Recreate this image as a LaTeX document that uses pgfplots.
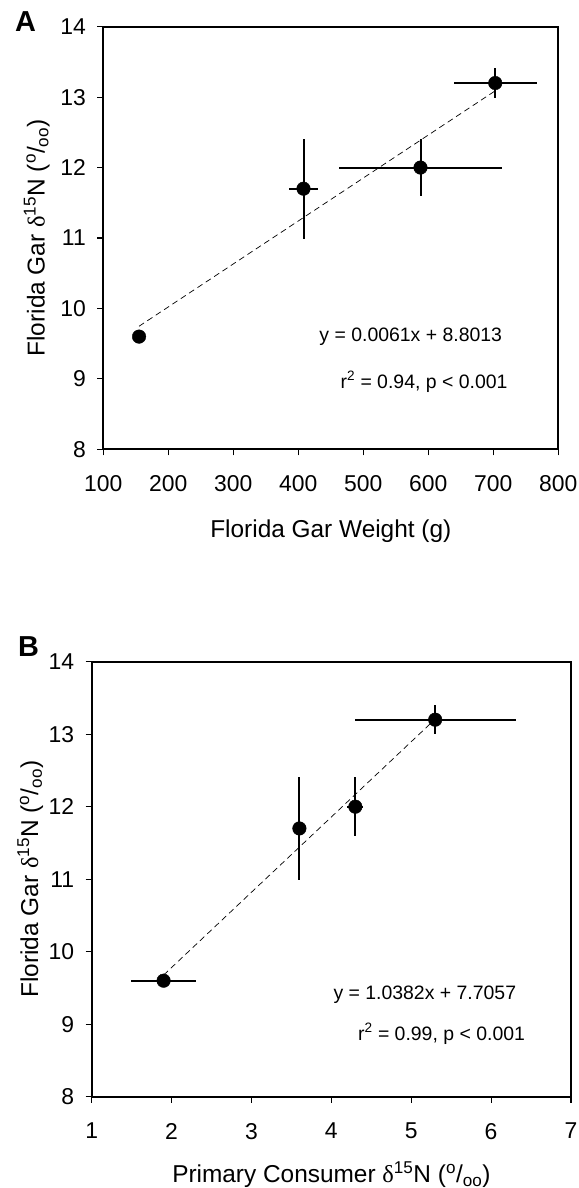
\documentclass[border=0pt]{standalone}
\usepackage{fontspec}
\setmainfont{Liberation Sans}
\newfontfamily\symfont{Liberation Serif}
\usepackage{pgfplots}
\pgfplotsset{compat=1.18}
\newcommand{\dN}{{\symfont δ}\textsuperscript{15}N (\textsuperscript{o}/\textsubscript{oo})}
\pgfplotsset{
  mystyle/.style={
    scale only axis,
    axis line style={line width=1.8bp},
    tick style={line width=1.2bp, black},
    tick align=outside,
    major tick length=6bp,
    xtick pos=left, ytick pos=left,
    tick label style={font=\fontsize{23}{27}\selectfont},
    xticklabel shift=17bp,
    yticklabel shift=8bp,
    label style={font=\fontsize{24.5}{29}\selectfont},
    /pgf/number format/assume math mode=true,
    error bars/error bar style={line width=2bp, black},
    error bars/error mark=none,
  }
}
\begin{document}
\begin{tikzpicture}
\path[use as bounding box] (0bp,0bp) rectangle (579bp,1188bp);
\begin{axis}[mystyle, at={(103.3bp,738.7bp)}, anchor=south west,
  width=455bp, height=422.6bp,
  xmin=100, xmax=800, ymin=8, ymax=14,
  xtick={100,200,...,800}, ytick={8,...,14},
  xlabel={Florida Gar Weight (g)},
  ylabel={Florida Gar \dN},
  xlabel style={at={(axis description cs:0.5,-0.193)}, anchor=center},
  ylabel style={at={(axis description cs:-0.146,0.5)}, anchor=center}]
\addplot[black, line width=0.7bp, dash pattern=on 6bp off 4bp] coordinates {(155,9.747) (703,13.090)};
\addplot[black, only marks, mark=*, mark size=6.8bp,
  error bars/.cd, x dir=both, x explicit, y dir=both, y explicit] coordinates {
(155,9.6) +- (0,0)
(408,11.7) +- (22,0.71)
(588,12.0) +- (125,0.41)
(703,13.2) +- (64,0.21)
};
\node[font=\fontsize{19.5}{23}\selectfont] at (axis cs:573,9.595) {y = 0.0061x + 8.8013};
\node[font=\fontsize{19.5}{23}\selectfont] at (axis cs:593.4,8.96) {r\textsuperscript{2} = 0.94, p < 0.001};
\end{axis}
\begin{axis}[mystyle, at={(91.7bp,91.3bp)}, anchor=south west,
  width=479.3bp, height=435bp,
  xmin=1, xmax=7, ymin=8, ymax=14,
  xtick={1,...,7}, ytick={8,...,14},
  xlabel={Primary Consumer \dN},
  ylabel={Florida Gar \dN},
  xlabel style={at={(axis description cs:0.5,-0.179)}, anchor=center},
  ylabel style={at={(axis description cs:-0.128,0.5)}, anchor=center}]
\addplot[black, line width=0.7bp, dash pattern=on 6bp off 4bp] coordinates {(1.9,9.678) (5.3,13.208)};
\addplot[black, only marks, mark=*, mark size=6.8bp,
  error bars/.cd, x dir=both, x explicit, y dir=both, y explicit] coordinates {
(1.9,9.6) +- (0.41,0)
(3.6,11.7) +- (0,0.71)
(4.3,12.0) +- (0.1,0.41)
(5.3,13.2) +- (1.01,0.2)
};
\node[font=\fontsize{19.5}{23}\selectfont] at (axis cs:5.17,9.41) {y = 1.0382x + 7.7057};
\node[font=\fontsize{19.5}{23}\selectfont] at (axis cs:5.379,8.865) {r\textsuperscript{2} = 0.99, p < 0.001};
\end{axis}
\node[font=\fontsize{29}{34}\selectfont\bfseries] at (25.5bp,1166bp) {A};
\node[font=\fontsize{29}{34}\selectfont\bfseries] at (28.5bp,541.3bp) {B};
\end{tikzpicture}
\end{document}
